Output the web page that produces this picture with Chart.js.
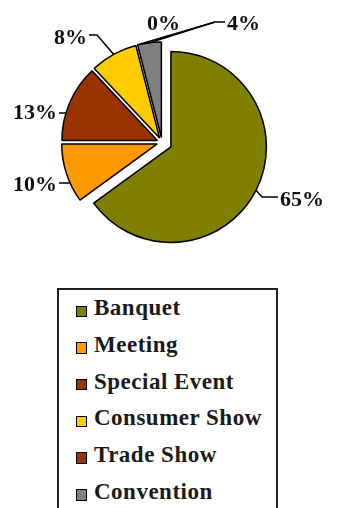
<!DOCTYPE html>
<html>
<head>
<meta charset="utf-8">
<script src="https://cdn.jsdelivr.net/npm/chart.js@4.4.0/dist/chart.umd.min.js"></script>
<style>
    html, body { margin: 0; padding: 0; background: #fff; }
    body { width: 339px; height: 508px; position: relative; overflow: hidden; }
    #pie { position: absolute; left: 0; top: 0; }
    #legend {
        position: absolute; left: 57px; top: 288px; width: 221px; height: 240px;
        box-sizing: border-box; border: 2px solid #222; background: #fff;
        font: bold 23px "Liberation Serif", serif; color: #1a1a1a;
    }
    .item { height: 36.7px; display: flex; align-items: center; padding-left: 16.5px; letter-spacing: 0.5px; white-space: nowrap; }
    .swatch { width: 9.5px; height: 9.5px; border: 1.5px solid #000; margin-right: 7px; position: relative; top: 3px; flex: none; }
</style>
</head>
<body>
<canvas id="pie" width="339" height="280"></canvas>
<div id="legend"></div>

<script>
const categories = ['Banquet', 'Meeting', 'Special Event', 'Consumer Show', 'Trade Show', 'Convention'];
const shares = [65, 10, 13, 8, 0, 4];
const sliceColors = ['#808000', '#FF9900', '#993300', '#FFCC00', '#993300', '#808080'];

// how far each slice is pulled out of the pie (px)
const explode = [10, 5, 5, 5, 5, 5];

// percent labels: text spot + leader bend points, leader starts on the slice edge
const labelLayout = [
    { tx: 280, ty: 200, align: 'left', via: [[262, 197], [278, 197]], hit: 'mid' },
    { tx: 57, ty: 185, align: 'right', via: [[59, 183]], hit: 'row' },
    { tx: 57, ty: 113, align: 'right', via: [[59, 113]], hit: 'row' },
    { tx: 87, ty: 38, align: 'right', via: [[97, 35], [89, 35]], hit: 'mid' },
    { tx: 147, ty: 24, align: 'left', via: [[215, 22]], hit: 'mid' },
    { tx: 227, ty: 24, align: 'left', via: [[215, 22], [225, 22]], hit: 'mid' }
];

const explodePlugin = {
    id: 'explode',
    afterDatasetUpdate(chart, args) {
        const arcs = chart.getDatasetMeta(args.index).data;
        arcs.forEach((arc, i) => {
            const mid = (arc.startAngle + arc.endAngle) / 2;
            arc.x += Math.cos(mid) * explode[i];
            arc.y += Math.sin(mid) * explode[i];
        });
    }
};

const labelPlugin = {
    id: 'pctLabels',
    afterDatasetsDraw(chart) {
        const ctx = chart.ctx;
        const arcs = chart.getDatasetMeta(0).data;
        ctx.save();
        ctx.strokeStyle = '#000';
        ctx.lineWidth = 1.5;
        ctx.fillStyle = '#111';
        ctx.font = 'bold 22px "Liberation Serif", serif';
        ctx.textBaseline = 'middle';
        arcs.forEach((arc, i) => {
            const lay = labelLayout[i];
            const r = arc.outerRadius;
            let ax, ay;
            if (lay.hit === 'row') {
                ay = lay.via[0][1];
                const dy = ay - arc.y;
                ax = arc.x - Math.sqrt(Math.max(r * r - dy * dy, 0));
            } else {
                const mid = (arc.startAngle + arc.endAngle) / 2;
                ax = arc.x + Math.cos(mid) * r;
                ay = arc.y + Math.sin(mid) * r;
            }
            ctx.beginPath();
            ctx.moveTo(ax, ay);
            lay.via.forEach(p => ctx.lineTo(p[0], p[1]));
            ctx.stroke();
            ctx.textAlign = lay.align;
            ctx.fillText(shares[i] + '%', lay.tx, lay.ty);
        });
        ctx.restore();
    }
};

new Chart(document.getElementById('pie'), {
    type: 'pie',
    data: {
        labels: categories,
        datasets: [{
            data: shares,
            backgroundColor: sliceColors,
            borderColor: '#000',
            borderWidth: 1.5,
            hoverBorderWidth: 1.5,
            offset: 0,
            hoverOffset: 0
        }]
    },
    options: {
        responsive: false,
        animation: false,
        events: [],
        layout: { padding: { left: 40, right: 55, top: 46.15, bottom: 41.35 } },
        plugins: {
            legend: { display: false },
            tooltip: { enabled: false }
        }
    },
    plugins: [explodePlugin, labelPlugin]
});

// legend box under the pie
const legend = document.getElementById('legend');
categories.forEach((name, i) => {
    const row = document.createElement('div');
    row.className = 'item';
    const sw = document.createElement('span');
    sw.className = 'swatch';
    sw.style.background = sliceColors[i];
    row.appendChild(sw);
    row.appendChild(document.createTextNode(name));
    legend.appendChild(row);
});
</script>
</body>
</html>
